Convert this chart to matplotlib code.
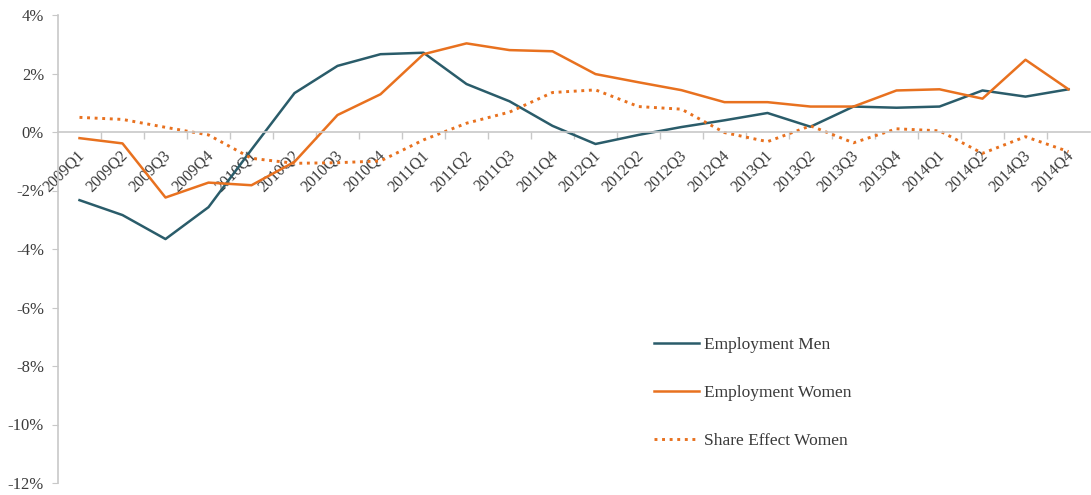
import matplotlib
matplotlib.use("Agg")
import matplotlib.pyplot as plt
import numpy as np
from matplotlib.ticker import FuncFormatter

quarters = [f"{y}Q{q}" for y in range(2009, 2015) for q in range(1, 5)]

# Quarterly change, in percent
emp_men = [-2.33, -2.84, -3.66, -2.57, -0.6, 1.33, 2.26, 2.66, 2.71, 1.64, 1.05, 0.21,
           -0.41, -0.1, 0.17, 0.4, 0.65, 0.18, 0.87, 0.83, 0.87, 1.42, 1.21, 1.46]
emp_women = [-0.21, -0.39, -2.24, -1.73, -1.82, -1.02, 0.58, 1.29, 2.66, 3.03, 2.8, 2.76,
             1.98, 1.7, 1.43, 1.02, 1.02, 0.87, 0.87, 1.42, 1.46, 1.14, 2.47, 1.46]
share_women = [0.5, 0.43, 0.16, -0.1, -0.9, -1.07, -1.05, -0.99, -0.27, 0.3, 0.68, 1.35,
               1.44, 0.87, 0.78, -0.02, -0.33, 0.21, -0.37, 0.11, 0.04, -0.73, -0.16, -0.67]

C_MEN = "#2a5c6a"
C_WOMEN = "#e8711f"
AXIS = "#c8c8c8"
TXT = "#3a3a3a"

plt.rcParams["font.family"] = ["Liberation Serif", "DejaVu Serif"]

fig = plt.figure(figsize=(10.91, 4.95), dpi=100)
ax = fig.add_axes([58 / 1091, 1 - 483 / 495, 1032 / 1091, 468 / 495])

x = np.arange(len(quarters))
ax.plot(x, emp_men, color=C_MEN, lw=1.8, label="Employment Men")
ax.plot(x, emp_women, color=C_WOMEN, lw=1.8, label="Employment Women")
ax.plot(x, share_women, color=C_WOMEN, lw=2.1, linestyle=(0, (1, 1.6)),
        label="Share Effect Women")

ax.set_xlim(-0.5, len(quarters) - 0.5)
ax.set_ylim(-12, 4)
ax.set_yticks(np.arange(-12, 5, 2))
ax.yaxis.set_major_formatter(FuncFormatter(lambda v, p: f"{v:.0f}%"))

ax.spines["top"].set_visible(False)
ax.spines["right"].set_visible(False)
ax.spines["bottom"].set_position(("data", 0))
ax.spines["bottom"].set_color(AXIS)
ax.spines["left"].set_color(AXIS)
ax.spines["left"].set_linewidth(1.2)
ax.spines["bottom"].set_linewidth(1.2)

ax.set_xticks(x)
ax.set_xticklabels(quarters, rotation=45, ha="right", rotation_mode="anchor")
ax.set_xticks(np.arange(0.5, len(quarters) - 0.5, 1), minor=True)
ax.tick_params(axis="x", which="major", length=0, pad=2, labelsize=11.5, labelcolor=TXT)
ax.tick_params(axis="x", which="minor", length=5, color=AXIS, width=1)
ax.tick_params(axis="y", length=4, color=AXIS, labelsize=12, labelcolor=TXT, pad=6)
for lab in ax.get_xticklabels():
    lab.set_transform(lab.get_transform() + matplotlib.transforms.ScaledTranslation(-2 / 72, -9 / 72, fig.dpi_scale_trans))

leg = ax.legend(loc="upper left", bbox_to_anchor=(638 / 1091, 1 - 321 / 495),
                bbox_transform=fig.transFigure, frameon=False, fontsize=12.5,
                labelspacing=1.85, handlelength=2.6, handletextpad=0.3)
for t in leg.get_texts():
    t.set_color(TXT)

fig.savefig("out.png", dpi=100)
